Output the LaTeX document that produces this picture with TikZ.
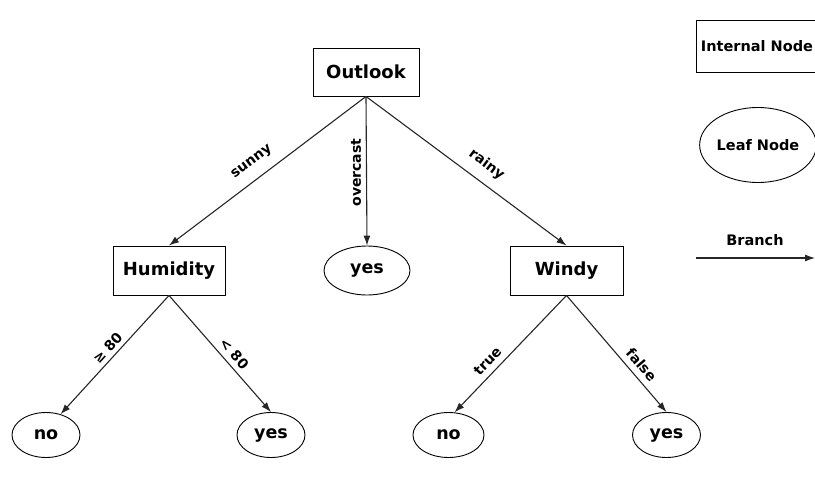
\documentclass[tikz,border=0pt]{standalone}
\usepackage{fontspec}
\setmainfont{DejaVu Sans}
\usetikzlibrary{shapes.geometric,arrows.meta}
\tikzset{
  inbox/.style={draw, line width=0.9pt, rectangle, minimum width=112pt, minimum height=49pt, inner sep=0pt, font=\fontsize{18}{18}\selectfont\bfseries},
  leaf/.style={draw, line width=0.9pt, ellipse, minimum width=68pt, minimum height=45pt, inner sep=0pt, font=\fontsize{17.5}{17.5}\selectfont\bfseries},
  branch/.style={line width=1.1pt, draw=black!85, -{Latex[length=10pt,width=7pt]}},
  lbl/.style={sloped, inner sep=0pt, font=\fontsize{14}{14}\selectfont\bfseries},
  legtext/.style={font=\fontsize{14.5}{14.5}\selectfont\bfseries}
}
\begin{document}
\begin{tikzpicture}[x=1pt,y=-1pt]
\useasboundingbox (0,0) rectangle (815,482);
% tree nodes
\node[inbox, minimum width=106pt, minimum height=48pt] (O) at (366,72) {Outlook};
\node[inbox] (H) at (169,270.5) {Humidity};
\node[leaf, minimum width=86pt, minimum height=49pt] (Y1) at (367,270.5) {yes};
\node[inbox, minimum width=113pt] (W) at (566.5,270.5) {Windy};
\node[leaf] (N1) at (46,435) {no};
\node[leaf] (Y2) at (271,435) {yes};
\node[leaf, minimum width=71pt] (N2) at (448.5,435) {no};
\node[leaf] (Y3) at (666.5,435) {yes};
% edges
\draw[branch] (O.south) -- node[lbl, pos=0.53, above=10pt] {sunny} (H.north);
\draw[branch] (O.south) -- node[inner sep=0pt, font=\fontsize{14}{14}\selectfont\bfseries, rotate=90, pos=0.51, above=5pt] {overcast} (Y1.north);
\draw[branch] (O.south) -- node[lbl, pos=0.55, above=10pt] {rainy} (W.north);
\draw[branch] (H.south) -- node[lbl, pos=0.5, above=4pt] {≥ 80} (N1.55);
\draw[branch] (H.south) -- node[lbl, pos=0.56, above=5pt] {< 80} (Y2.north);
\draw[branch] (W.south) -- node[lbl, pos=0.63, above=6pt] {true} (N2.75);
\draw[branch] (W.south) -- node[lbl, pos=0.66, above=6pt] {false} (Y3.north);
% legend
\node[draw, line width=0.9pt, rectangle, minimum width=126pt, minimum height=52pt, inner sep=0pt, legtext] (LI) at (759,46) {\hspace*{-4pt}Internal Node};
\node[draw, line width=0.9pt, ellipse, minimum width=104pt, minimum height=75pt, inner sep=0pt, legtext] (LL) at (758,145) {Leaf Node};
\node[legtext] (LB) at (755,240) {Branch};
\coordinate (b1) at (696,258);
\coordinate (b2) at (815,258);
\draw[branch] (b1) -- (b2);
\end{tikzpicture}
\end{document}
